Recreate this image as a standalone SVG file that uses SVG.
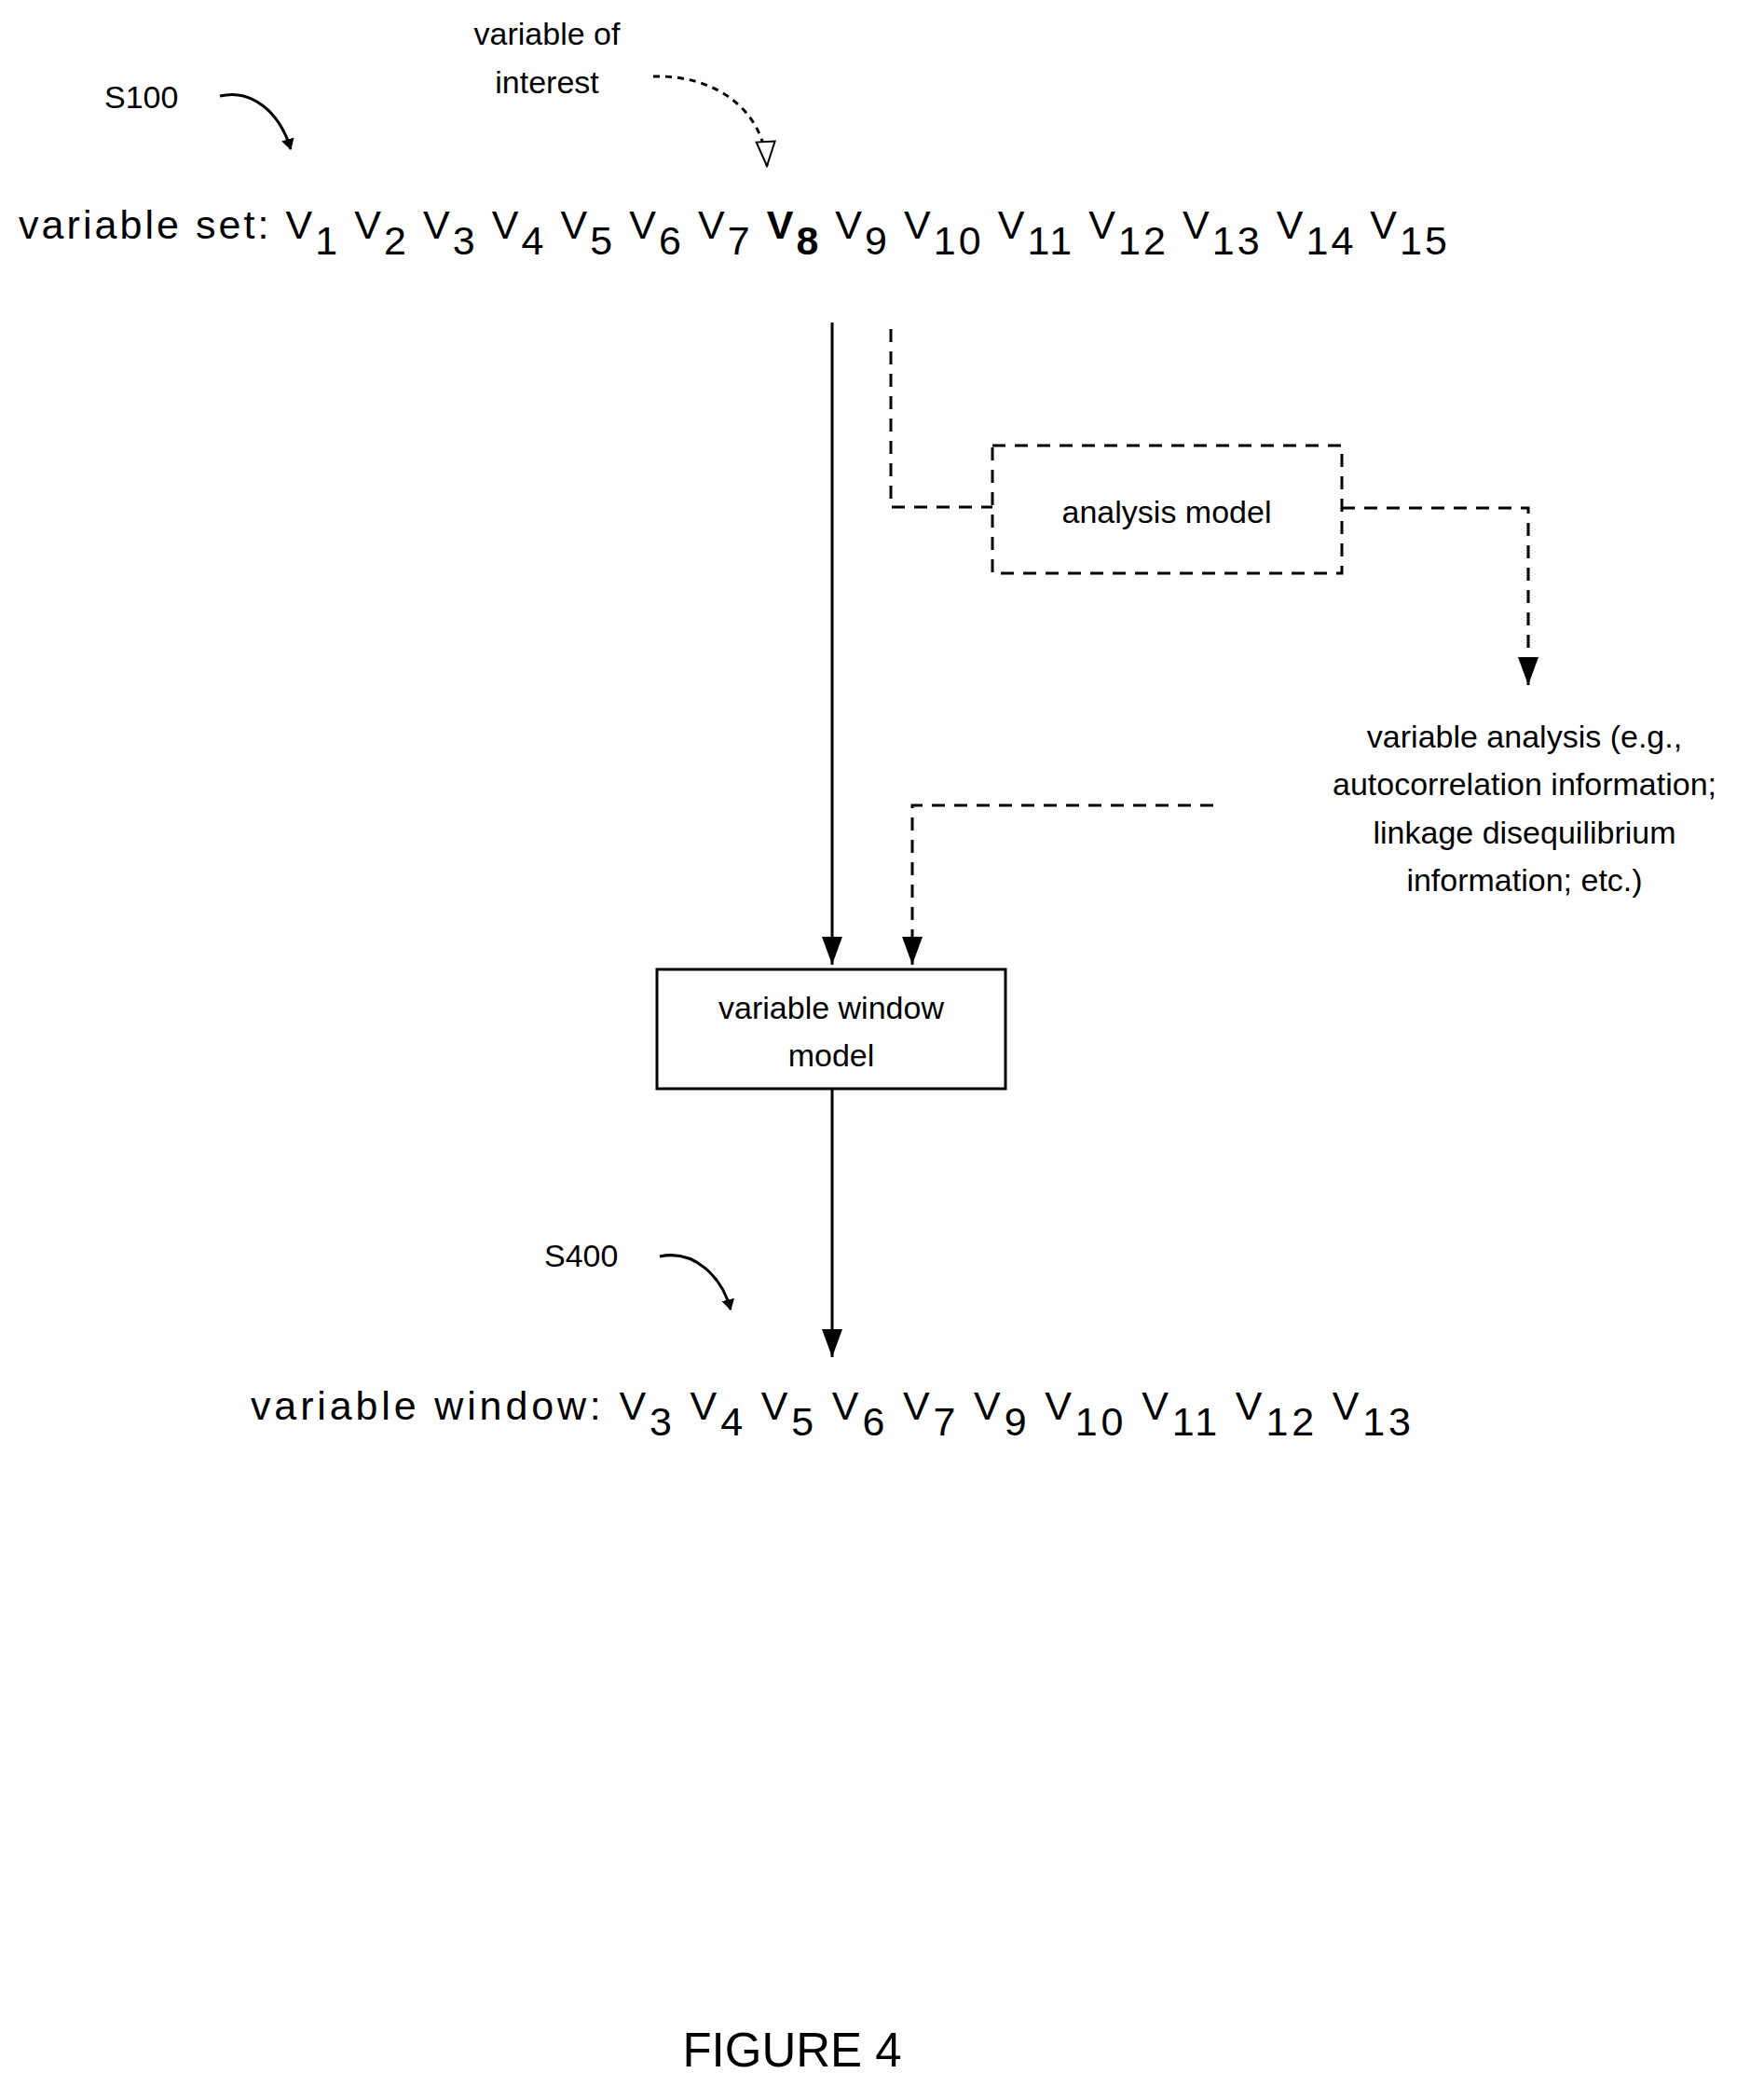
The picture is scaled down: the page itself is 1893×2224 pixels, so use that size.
<svg xmlns="http://www.w3.org/2000/svg" width="1893" height="2224" viewBox="0 0 1893 2224">
<style>
text{font-family:"Liberation Sans",Arial,sans-serif;fill:#000}
.s{font-size:34px}
.b{font-size:43px}
.ln{stroke:#000;stroke-width:3;fill:none}
.d{stroke-dasharray:14 10}
</style>
<defs>
<marker id="ah" markerWidth="12" markerHeight="14" refX="11" refY="7" orient="auto" markerUnits="userSpaceOnUse" viewBox="0 0 12 14"><path d="M0,0 L12,7 L0,14 z" fill="#000"/></marker>
<marker id="ahb" markerWidth="30" markerHeight="30" refX="30" refY="15" orient="auto" markerUnits="userSpaceOnUse" viewBox="0 0 30 30"><path d="M0,4 L30,15 L0,26 z" fill="#000"/></marker>
<marker id="aho" markerWidth="30" markerHeight="30" refX="28" refY="15" orient="auto" markerUnits="userSpaceOnUse" viewBox="0 0 30 30"><path d="M2,5 L28,15 L2,25 z" fill="#fff" stroke="#000" stroke-width="2"/></marker>
</defs>
<rect width="1893" height="2224" fill="#fff"/>
<g id="labels">
<text class="s" x="112" y="116">S100</text>
<text class="s" x="587" y="48" text-anchor="middle">variable of</text>
<text class="s" x="587" y="100" text-anchor="middle">interest</text>
<text class="s" x="584" y="1359">S400</text>
<text x="850" y="2217" text-anchor="middle" font-size="51">FIGURE 4</text>
</g>
<g id="variable-set">
<text class="b" x="20" y="256" textLength="1533" lengthAdjust="spacing">variable set: V<tspan dy="17">1</tspan><tspan dy="-17"> V</tspan><tspan dy="17">2</tspan><tspan dy="-17"> V</tspan><tspan dy="17">3</tspan><tspan dy="-17"> V</tspan><tspan dy="17">4</tspan><tspan dy="-17"> V</tspan><tspan dy="17">5</tspan><tspan dy="-17"> V</tspan><tspan dy="17">6</tspan><tspan dy="-17"> V</tspan><tspan dy="17">7</tspan><tspan dy="-17" font-weight="bold"> V</tspan><tspan dy="17" font-weight="bold">8</tspan><tspan dy="-17"> V</tspan><tspan dy="17">9</tspan><tspan dy="-17"> V</tspan><tspan dy="17">10</tspan><tspan dy="-17"> V</tspan><tspan dy="17">11</tspan><tspan dy="-17"> V</tspan><tspan dy="17">12</tspan><tspan dy="-17"> V</tspan><tspan dy="17">13</tspan><tspan dy="-17"> V</tspan><tspan dy="17">14</tspan><tspan dy="-17"> V</tspan><tspan dy="17">15</tspan></text>
</g>
<g id="analysis-model">
<rect class="ln d" x="1065" y="478" width="375" height="137"/>
<text class="s" x="1252" y="561" text-anchor="middle">analysis model</text>
</g>
<g id="variable-analysis">
<text class="s" x="1636" y="802" text-anchor="middle">variable analysis (e.g.,</text>
<text class="s" x="1636" y="853" text-anchor="middle">autocorrelation information;</text>
<text class="s" x="1636" y="905" text-anchor="middle">linkage disequilibrium</text>
<text class="s" x="1636" y="956" text-anchor="middle">information; etc.)</text>
</g>
<g id="variable-window-model">
<rect class="ln" x="705" y="1040" width="374" height="128"/>
<text class="s" x="892" y="1093" text-anchor="middle">variable window</text>
<text class="s" x="892" y="1144" text-anchor="middle">model</text>
</g>
<g id="variable-window">
<text class="b" x="269" y="1523" textLength="1245" lengthAdjust="spacing">variable window:  V<tspan dy="17">3</tspan><tspan dy="-17"> V</tspan><tspan dy="17">4</tspan><tspan dy="-17"> V</tspan><tspan dy="17">5</tspan><tspan dy="-17"> V</tspan><tspan dy="17">6</tspan><tspan dy="-17"> V</tspan><tspan dy="17">7</tspan><tspan dy="-17">  V</tspan><tspan dy="17">9</tspan><tspan dy="-17"> V</tspan><tspan dy="17">10</tspan><tspan dy="-17"> V</tspan><tspan dy="17">11</tspan><tspan dy="-17"> V</tspan><tspan dy="17">12</tspan><tspan dy="-17"> V</tspan><tspan dy="17">13</tspan></text>
</g>
<g id="connectors">
<path class="ln" d="M236,103 C270,95 300,120 312,160" marker-end="url(#ah)"/>
<path class="ln" d="M708,1348 C745,1340 775,1370 784,1405" marker-end="url(#ah)"/>
<path class="ln" d="M701,82 C770,80 820,120 823,178" stroke-dasharray="7 6" marker-end="url(#aho)"/>
<path class="ln" d="M893,346 V1035" marker-end="url(#ahb)"/>
<path class="ln d" d="M956,353 V544 H1065"/>
<path class="ln d" d="M1440,545 H1640 V735" marker-end="url(#ahb)"/>
<path class="ln d" d="M1302,864 H979 V1035" marker-end="url(#ahb)"/>
<path class="ln" d="M893,1168 V1456" marker-end="url(#ahb)"/>
</g>
</svg>
